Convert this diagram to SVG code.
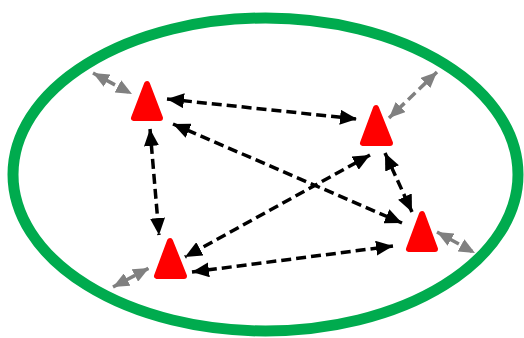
<svg xmlns="http://www.w3.org/2000/svg" width="524" height="338" viewBox="0 0 524 338">
<style>
.node{fill:#FF0000;stroke:#FF0000;stroke-width:6;stroke-linejoin:round}
.blk{stroke:#000;stroke-width:3.5;stroke-dasharray:10 5;fill:none}
.gry{stroke:#808080;stroke-width:3.5;stroke-dasharray:10 5;fill:none}
</style>
<defs>
<marker id="hb" viewBox="0 0 17 15" refX="17" refY="7.5" markerWidth="17" markerHeight="15" markerUnits="userSpaceOnUse" orient="auto-start-reverse"><path d="M0,0 L17,7.5 L0,15 Z" fill="#000"/></marker>
<marker id="hg" viewBox="0 0 16 14" refX="16" refY="7" markerWidth="16" markerHeight="14" markerUnits="userSpaceOnUse" orient="auto-start-reverse"><path d="M0,0 L16,7 L0,14 Z" fill="#808080"/></marker>
</defs>
<rect width="524" height="338" fill="#fff"/>
<ellipse id="boundary" cx="265.5" cy="174.5" rx="252.5" ry="156.5" fill="none" stroke="#00AB4E" stroke-width="11"/>
<g id="connectors">
<line class="blk" x1="167" y1="99" x2="357" y2="119" marker-start="url(#hb)" marker-end="url(#hb)"/>
<line class="blk" x1="150" y1="129" x2="159" y2="235" marker-start="url(#hb)" marker-end="url(#hb)"/>
<line class="blk" x1="173" y1="124" x2="402" y2="223" marker-start="url(#hb)" marker-end="url(#hb)"/>
<line class="blk" x1="370" y1="155" x2="185" y2="257" marker-start="url(#hb)" marker-end="url(#hb)"/>
<line class="blk" x1="385" y1="153" x2="412" y2="212" marker-start="url(#hb)" marker-end="url(#hb)"/>
<line class="blk" x1="192" y1="272" x2="393" y2="246" marker-start="url(#hb)" marker-end="url(#hb)"/>
<line class="gry" x1="93" y1="73" x2="132" y2="94" marker-start="url(#hg)" marker-end="url(#hg)"/>
<line class="gry" x1="437" y1="72" x2="389" y2="118" marker-start="url(#hg)" marker-end="url(#hg)"/>
<line class="gry" x1="113" y1="287" x2="149" y2="268" marker-start="url(#hg)" marker-end="url(#hg)"/>
<line class="gry" x1="437" y1="232" x2="475" y2="253" marker-start="url(#hg)" marker-end="url(#hg)"/>
</g>
<g id="nodeA"><polygon class="node" points="147,84 134,118 160,118"/></g>
<g id="nodeB"><polygon class="node" points="376,108 363,143 390,143"/></g>
<g id="nodeC"><polygon class="node" points="170,241 157,276 184,276"/></g>
<g id="nodeD"><polygon class="node" points="422,214 409,249 435,249"/></g>
</svg>
